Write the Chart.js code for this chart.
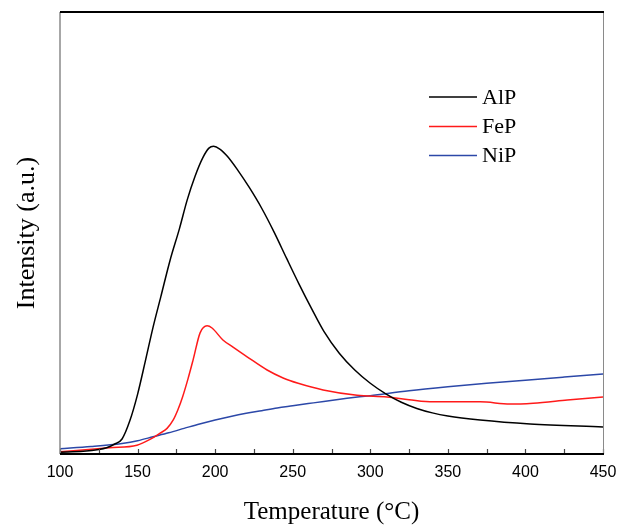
<!DOCTYPE html>
<html>
<head>
<meta charset="utf-8">
<script src="https://cdn.jsdelivr.net/npm/chart.js@4/dist/chart.umd.min.js"></script>
<style>
html,body{margin:0;padding:0;background:#fff;}
#wrap{width:620px;height:525px;position:relative;}
</style>
</head>
<body>
<div id="wrap"><canvas id="c" width="620" height="525"></canvas></div>
<script>
// ---- data (temperature °C, intensity a.u.) ----
const alpT = [100,115,125,130,135,140,145,150,155,160,165,171,177,182,187,192,196,199,203,208,215,222,230,238,246,254,262,270,280,290,300,310,320,330,340,350,370.8,403,450];
const alpV = [0.4,0.6,1.0,1.4,2.2,3.4,7.5,13.5,21,28.7,35.6,43.9,51,57.5,62.8,67,69.2,69.6,69,67.3,64,60.3,55.6,50.2,44.3,38.5,33,27.8,22.8,19,16,13.6,11.7,10.3,9.3,8.6,7.7,6.8,6.1];

const fepT = [100,132,149.6,158,164.5,169,173,176,179,182.5,185.8,190.3,194.8,198,205,211.5,220.6,233.5,243.8,253.5,269.6,291.5,310.8,325,340.5,370.8,390,405,427,450];
const fepV = [0.5,1.4,2.0,3.3,4.7,5.8,7.7,10,12.9,17,21.3,27.4,29,28.5,25.8,24.2,22,19,17.2,16,14.5,13.3,12.9,12.3,11.8,11.8,11.3,11.5,12.2,12.9];

const nipT = [100,120,140,150,160,170,180,190,200,210,220,230,240,250,260,270,285,300,325,350,375,400,425,450];
const nipV = [1.2,1.7,2.4,3.0,3.9,4.8,5.8,6.8,7.7,8.5,9.2,9.8,10.4,10.9,11.4,11.9,12.6,13.2,14.3,15.2,16.0,16.7,17.4,18.1];

const seriesNames = ['AlP','FeP','NiP'];
const seriesColors = ['#000000','#ff1a1a','#2c48a8'];
const xTickValues = [100,150,200,250,300,350,400,450];
const xMinorStep = 25;

function pts(t, v){ return t.map((x,i)=>({x:x, y:v[i]})); }

const frame = {
  id:'frame',
  afterDatasetsDraw(chart){
    const {ctx, chartArea:a, scales:{x}} = chart;
    ctx.save();
    ctx.strokeStyle = '#444';
    ctx.lineWidth = 1.2;
    for(let t = x.min; t <= x.max; t += xMinorStep){
      const px = Math.round(x.getPixelForValue(t)) + 0.5;
      ctx.beginPath(); ctx.moveTo(px, a.bottom); ctx.lineTo(px, a.bottom - 5); ctx.stroke();
    }
    ctx.strokeStyle = '#8a8a8a';
    ctx.lineWidth = 1.5;
    ctx.beginPath(); ctx.moveTo(a.left, a.top); ctx.lineTo(a.left, a.bottom); ctx.stroke();
    ctx.lineWidth = 1;
    ctx.beginPath(); ctx.moveTo(a.right+0.5, a.top); ctx.lineTo(a.right+0.5, a.bottom); ctx.stroke();
    ctx.strokeStyle = '#000';
    ctx.lineWidth = 2;
    ctx.beginPath(); ctx.moveTo(a.left, a.top); ctx.lineTo(a.right+1, a.top); ctx.stroke();
    ctx.beginPath(); ctx.moveTo(a.left, a.bottom); ctx.lineTo(a.right+1, a.bottom); ctx.stroke();
    ctx.font = '22px "Liberation Serif"';
    ctx.textBaseline = 'middle';
    ctx.textAlign = 'left';
    const ys = [97,126.5,155.5];
    chart.data.datasets.forEach((ds,i)=>{
      ctx.strokeStyle = ds.borderColor;
      ctx.lineWidth = 1.5;
      ctx.beginPath(); ctx.moveTo(429, ys[i]); ctx.lineTo(477, ys[i]); ctx.stroke();
      ctx.fillStyle = '#000';
      ctx.fillText(ds.label, 482, ys[i]+1);
    });
    ctx.restore();
  }
};

new Chart(document.getElementById('c'), {
  type:'line',
  data:{
    datasets:[
      {label:seriesNames[0], data:pts(alpT,alpV), borderColor:seriesColors[0]},
      {label:seriesNames[1], data:pts(fepT,fepV), borderColor:seriesColors[1]},
      {label:seriesNames[2], data:pts(nipT,nipV), borderColor:seriesColors[2]}
    ]
  },
  options:{
    responsive:false,
    animation:false,
    layout:{padding:{top:12,right:17,left:0,bottom:0}},
    elements:{
      point:{radius:0},
      line:{borderWidth:1.5, cubicInterpolationMode:'monotone'}
    },
    plugins:{legend:{display:false}, tooltip:{enabled:false}},
    scales:{
      x:{
        type:'linear', min:100, max:450,
        afterBuildTicks(s){ s.ticks = xTickValues.map(v=>({value:v})); },
        grid:{display:false, drawTicks:false},
        border:{display:false},
        ticks:{color:'#000', padding:9, font:{family:'"Liberation Sans"', size:16}},
        title:{display:true, text:'Temperature (°C)', color:'#000', font:{family:'"Liberation Serif"', size:25, lineHeight:1}, padding:{top:0,bottom:0}},
        afterFit(s){ s.height = 71; s.paddingLeft = 0; s.paddingRight = 0; }
      },
      y:{
        type:'linear', min:0, max:100,
        grid:{display:false, drawTicks:false},
        border:{display:false},
        ticks:{display:false},
        title:{display:true, text:'Intensity (a.u.)', color:'#000', font:{family:'"Liberation Serif"', size:26, lineHeight:1}, padding:{top:14,bottom:0}},
        afterFit(s){ s.width = 60; s.paddingTop = 0; s.paddingBottom = 0; }
      }
    }
  },
  plugins:[frame]
});
</script>
</body>
</html>
